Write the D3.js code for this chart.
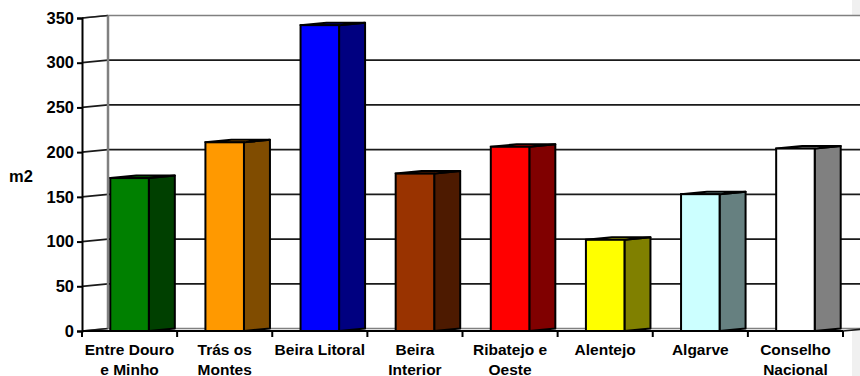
<!DOCTYPE html>
<html>
<head>
<meta charset="utf-8">
<script src="https://cdn.jsdelivr.net/npm/d3@7"></script>
<style>
  body { margin: 0; background: #fff; }
  svg { display: block; font-family: "Liberation Sans", Arial, sans-serif; }
</style>
</head>
<body>
<script>
// data
var regions = [["Entre Douro", "e Minho"], ["Trás os", "Montes"], ["Beira Litoral"], ["Beira", "Interior"],
               ["Ribatejo e", "Oeste"], ["Alentejo"], ["Algarve"], ["Conselho", "Nacional"]];
var area = [171, 211, 342, 176, 206, 102, 153, 204];
var frontColors = ["#008000", "#ff9900", "#0000ff", "#993300", "#ff0000", "#ffff00", "#ccffff", "#ffffff"];
var sideColors  = ["#004000", "#804c00", "#000080", "#4d1a00", "#800000", "#808000", "#668080", "#808080"];
var yTicks = [0, 50, 100, 150, 200, 250, 300, 350];

var width = 860, height = 376;
var depthX = 26, depthY = -2.5;   // fake 3d offset of the back wall

var svg = d3.select("body").append("svg")
    .attr("width", width)
    .attr("height", height);

var idx = d3.range(regions.length);
var x = d3.scaleBand().domain(idx).range([82, 843]).paddingInner(0.595).paddingOuter(0.2975);
var xBand = d3.scaleBand().domain(idx).range([82, 843]);
var y = d3.scaleLinear().domain([0, 350]).range([331, 18]);

// gray strip on the right edge
svg.append("rect").attr("x", 852).attr("y", 0).attr("width", 8).attr("height", height).attr("fill", "#f0f0f0");

// back wall
svg.append("rect")
    .attr("x", 82 + depthX).attr("y", y(350) + depthY)
    .attr("width", width - 82 - depthX).attr("height", y(0) - y(350))
    .attr("fill", "#fff");

// gridlines: slanted part on the side wall, then flat along the back
svg.selectAll(".grid")
  .data(yTicks)
  .enter().append("polyline")
    .attr("points", function(d) {
      return [[82, y(d)], [82 + depthX, y(d) + depthY], [width + 5, y(d) + depthY]].join(" ");
    })
    .attr("fill", "none")
    .attr("stroke", function(d) { return d === 350 || d === 0 ? "#808080" : "#1a1a1a"; })
    .attr("stroke-width", 1.7);

svg.append("line")
    .attr("x1", 82).attr("y1", y(350)).attr("x2", 82 + depthX).attr("y2", y(350) + depthY)
    .attr("stroke", "#1a1a1a").attr("stroke-width", 1.7);
svg.append("line")
    .attr("x1", 82).attr("y1", y(0)).attr("x2", 82 + depthX).attr("y2", y(0) + depthY)
    .attr("stroke", "#1a1a1a").attr("stroke-width", 1.7);

// back wall corner
svg.append("line")
    .attr("x1", 82 + depthX).attr("y1", y(350) + depthY)
    .attr("x2", 82 + depthX).attr("y2", y(0) + depthY)
    .attr("stroke", "#808080").attr("stroke-width", 2.5);

// floor right edge
svg.append("line")
    .attr("x1", 843).attr("y1", y(0)).attr("x2", 843 + depthX).attr("y2", y(0) + depthY)
    .attr("stroke", "#1a1a1a").attr("stroke-width", 1.7);

// bars
var bars = svg.selectAll(".bar")
  .data(idx)
  .enter().append("g");

bars.append("polygon") // side
    .attr("points", function(i) {
      var x1 = x(i) + x.bandwidth();
      return [[x1, y(area[i])], [x1 + depthX, y(area[i]) + depthY],
              [x1 + depthX, y(0) + depthY], [x1, y(0)]].join(" ");
    })
    .attr("fill", function(i) { return sideColors[i]; })
    .attr("stroke", "#000").attr("stroke-width", 2).attr("stroke-linejoin", "round");

bars.append("polygon") // top
    .attr("points", function(i) {
      var x0 = x(i), x1 = x(i) + x.bandwidth();
      return [[x0, y(area[i])], [x0 + depthX, y(area[i]) + depthY],
              [x1 + depthX, y(area[i]) + depthY], [x1, y(area[i])]].join(" ");
    })
    .attr("fill", function(i) { return frontColors[i]; })
    .attr("stroke", "#000").attr("stroke-width", 2).attr("stroke-linejoin", "round");

bars.append("rect") // front
    .attr("x", function(i) { return x(i); })
    .attr("y", function(i) { return y(area[i]); })
    .attr("width", x.bandwidth())
    .attr("height", function(i) { return y(0) - y(area[i]); })
    .attr("fill", function(i) { return frontColors[i]; })
    .attr("stroke", "#000").attr("stroke-width", 2);

// y axis
var yAxis = svg.append("g")
    .attr("transform", "translate(82,0)")
    .call(d3.axisLeft(y).tickValues(yTicks).tickSize(5).tickPadding(3));
yAxis.select(".domain").attr("stroke", "#000").attr("stroke-width", 2);
yAxis.selectAll(".tick line").attr("stroke", "#000").attr("stroke-width", 2);
yAxis.selectAll(".tick text")
    .attr("font-size", "16.5px").attr("font-weight", "bold").attr("fill", "#000")
    .attr("font-family", "Liberation Sans, Arial, sans-serif");

// x axis line and ticks
svg.append("line")
    .attr("x1", 82).attr("y1", y(0)).attr("x2", 843).attr("y2", y(0))
    .attr("stroke", "#000").attr("stroke-width", 2.2);
svg.selectAll(".xtick")
  .data(d3.range(regions.length + 1))
  .enter().append("line")
    .attr("x1", function(i) { return i < regions.length ? xBand(i) : 843; })
    .attr("x2", function(i) { return i < regions.length ? xBand(i) : 843; })
    .attr("y1", y(0)).attr("y2", y(0) + 6)
    .attr("stroke", "#000").attr("stroke-width", 2);

// category labels
var labels = svg.selectAll(".cat")
  .data(idx)
  .enter().append("text")
    .attr("x", function(i) { return xBand(i) + xBand.bandwidth() / 2; })
    .attr("y", 355)
    .attr("text-anchor", "middle")
    .attr("font-size", "15.5px")
    .attr("font-weight", "bold")
    .attr("fill", "#000");
labels.selectAll("tspan")
  .data(function(i) { return regions[i]; })
  .enter().append("tspan")
    .attr("x", function() { return d3.select(this.parentNode).attr("x"); })
    .attr("dy", function(d, j) { return j === 0 ? 0 : 20; })
    .text(function(d) { return d; });

// y title
svg.append("text")
    .attr("x", 9).attr("y", 182)
    .attr("font-size", "16.5px").attr("font-weight", "bold")
    .text("m2");
</script>
</body>
</html>
